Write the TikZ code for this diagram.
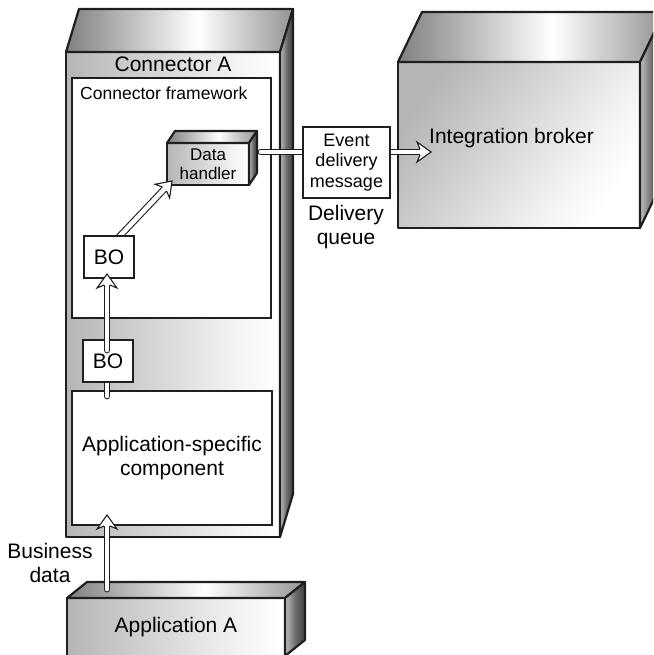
\documentclass[tikz,border=0pt]{standalone}
\usepackage{fontspec}
\setmainfont{Liberation Sans}
\usetikzlibrary{calc}

% face shadings for the 3-D blocks (the middle 50bp span the face)
\pgfdeclarehorizontalshading{facefront}{100bp}{color(0bp)=(black!29); color(25bp)=(black!29); color(66bp)=(black!4); color(75bp)=(white); color(100bp)=(white)}
\pgfdeclarehorizontalshading{facetop}{100bp}{color(0bp)=(black!50); color(25bp)=(black!50); color(54bp)=(white); color(75bp)=(black!42); color(100bp)=(black!42)}
\pgfdeclarehorizontalshading{faceside}{100bp}{color(0bp)=(black!25); color(25bp)=(black!25); color(50bp)=(black!58); color(75bp)=(black!75); color(100bp)=(black!75)}

\pgfdeclarelayer{top}
\pgfsetlayers{main,top}

\tikzset{
  edge3d/.style={draw=black!88, line width=2.2pt, line join=round},
  frontface/.style={edge3d, shade, shading=facefront, inner sep=0pt, outer sep=0pt, align=center},
  topf/.style={edge3d, shade, shading=facetop},
  sidef/.style={edge3d, shade, shading=faceside},
  plainbox/.style={draw=black!88, line width=1.8pt, fill=white, inner sep=0pt, outer sep=0pt, align=center},
  bigtext/.style={font=\fontsize{21}{24}\selectfont, inner sep=0pt},
  smalltext/.style={font=\fontsize{17.5}{20.5}\selectfont, inner sep=0pt},
  shaft/.style={draw=black!88, line width=1.1pt, double=white, double distance=4.6pt, line cap=round},
  ahead/.pic={
    \fill[white] (0,0) -- (-14,10) -- (-11,2.9) -- (-11,-2.9) -- (-14,-10) -- cycle;
    \draw[black!88, line width=1.1pt, line join=miter] (-11,2.9) -- (-14,10) -- (0,0) -- (-14,-10) -- (-11,-2.9);
  }
}

% top and side faces of a block whose front face is node #1, depth (#2,#3)
\newcommand\boxfaces[3]{%
  \path[topf] (#1.north west) -- ++(#2,#3) -- ($(#1.north east)+(#2,#3)$) -- (#1.north east) -- cycle;
  \path[sidef] (#1.north east) -- ++(#2,#3) -- ($(#1.south east)+(#2,#3)$) -- (#1.south east) -- cycle;
}

% hollow (outlined) arrow from #1 to #2
\newcommand\hollowarrow[2]{%
  \draw[shaft, shorten >=11pt] (#1) -- (#2);
  \path let \p1=(#1), \p2=(#2), \n1={atan2(\y2-\y1,\x2-\x1)} in (\p2) pic[rotate=\n1] {ahead};
}

\begin{document}
\begin{tikzpicture}[x=1pt, y=1pt]
\useasboundingbox (0,0) rectangle (653,-655);
\clip (0,0) rectangle (653,-655);

% integration broker block
\node[frontface, minimum width=242pt, minimum height=166pt, shading angle=-35] (broker) at (519,-145) {};
\boxfaces{broker}{24}{50}

% connector block
\node[frontface, minimum width=214pt, minimum height=485pt] (conn) at (173,-294.5) {};
\boxfaces{conn}{13}{43}
\node[bigtext] (connA) at (173,-64) {Connector A};

\node[plainbox, minimum width=199pt, minimum height=240pt] (frame) at (171.5,-198) {};
\node[smalltext, anchor=west] (fwlabel) at (80,-93) {Connector framework};

\node[plainbox, bigtext, minimum width=200pt, minimum height=134pt] (appspec) at (172,-458) {Application-specific\\component};

% data handler block
\node[frontface, font=\fontsize{17}{19.5}\selectfont, minimum width=82pt, minimum height=42pt] (dh) at (208,-164) {Data\\handler};
\boxfaces{dh}{8}{12}

% business objects
\begin{pgfonlayer}{top}
\node[plainbox, bigtext, minimum width=50pt, minimum height=42pt] (bo1) at (109,-257) {BO};
\node[plainbox, bigtext, minimum width=50pt, minimum height=42pt] (bo2) at (108,-361) {BO};
\hollowarrow{$(bo2.north)+(-1,-10)$}{$(bo1.south)+(-2,4)$}
\end{pgfonlayer}

\hollowarrow{$(bo1.north)+(8,-3)$}{$(dh.south west)+(5,4)$}
\draw[shaft] ($(appspec.north)+(-65,-5)$) -- ($(bo2.south)+(-1,4)$);

% delivery queue
\begin{pgfonlayer}{top}
\node[plainbox, font=\fontsize{18}{20.5}\selectfont, minimum width=87pt, minimum height=71pt] (evt) at (346.5,-162.5) {Event\\delivery\\message};
\end{pgfonlayer}
\draw[shaft] ($(dh.north east)+(12,-9)$) -- ($(evt.west)+(4,10.5)$);
\hollowarrow{$(evt.east)+(-4,10.5)$}{$(broker.west)+(33,-7)$}

\node[bigtext, align=center] (dq) at (346,-227) {Delivery\\queue};
\node[bigtext, anchor=west] (iblabel) at (429,-138) {Integration broker};

% application block
\node[frontface, bigtext, minimum width=218pt, minimum height=58pt] (appA) at (176,-627) {Application A};
\boxfaces{appA}{20}{16}
\hollowarrow{$(appA.north west)+(40,9)$}{$(appspec.south west)+(35,10)$}
\node[bigtext, align=center] (bd) at (50,-563) {Business\\data};

\end{tikzpicture}
\end{document}
